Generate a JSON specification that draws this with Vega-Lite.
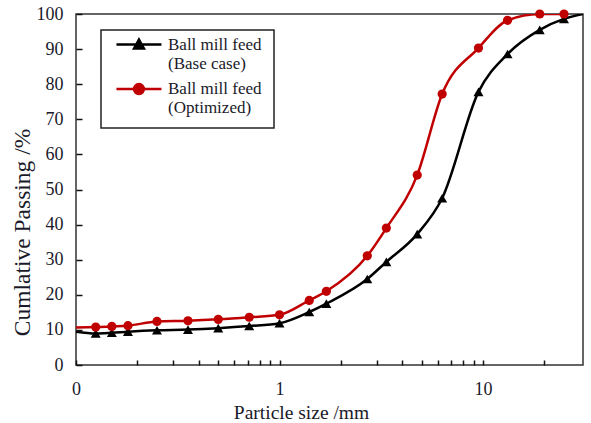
{
  "$schema": "https://vega.github.io/schema/vega-lite/v6.json",
  "autosize": {"type": "none"},
  "width": 507,
  "height": 351,
  "padding": {"left": 76, "top": 14, "right": 8, "bottom": 58},
  "background": "white",
  "config": {
    "font": "Liberation Serif",
    "view": {"stroke": "#333333", "strokeWidth": 1.5},
    "axis": {"grid": false, "domain": false, "ticks": true, "tickWidth": 1.5, "tickOpacity": 1, "labelFont": "Liberation Serif", "titleFont": "Liberation Serif", "labelColor": "#1a1a2a", "titleColor": "#1a1a2a", "titleFontWeight": "normal"}
  },
  "data": {"values": [
    {"size": 0.1, "pass": 9.5, "series": "Ball mill feed|\u00a0\u00a0(Base case)", "marker": false},
    {"size": 0.125, "pass": 9.0, "series": "Ball mill feed|\u00a0\u00a0(Base case)", "marker": true},
    {"size": 0.15, "pass": 9.2, "series": "Ball mill feed|\u00a0\u00a0(Base case)", "marker": true},
    {"size": 0.18, "pass": 9.5, "series": "Ball mill feed|\u00a0\u00a0(Base case)", "marker": true},
    {"size": 0.25, "pass": 9.9, "series": "Ball mill feed|\u00a0\u00a0(Base case)", "marker": true},
    {"size": 0.355, "pass": 10.1, "series": "Ball mill feed|\u00a0\u00a0(Base case)", "marker": true},
    {"size": 0.5, "pass": 10.5, "series": "Ball mill feed|\u00a0\u00a0(Base case)", "marker": true},
    {"size": 0.71, "pass": 11.1, "series": "Ball mill feed|\u00a0\u00a0(Base case)", "marker": true},
    {"size": 1.0, "pass": 11.9, "series": "Ball mill feed|\u00a0\u00a0(Base case)", "marker": true},
    {"size": 1.4, "pass": 15.1, "series": "Ball mill feed|\u00a0\u00a0(Base case)", "marker": true},
    {"size": 1.7, "pass": 17.5, "series": "Ball mill feed|\u00a0\u00a0(Base case)", "marker": true},
    {"size": 2.7, "pass": 24.5, "series": "Ball mill feed|\u00a0\u00a0(Base case)", "marker": true},
    {"size": 3.35, "pass": 29.4, "series": "Ball mill feed|\u00a0\u00a0(Base case)", "marker": true},
    {"size": 4.75, "pass": 37.3, "series": "Ball mill feed|\u00a0\u00a0(Base case)", "marker": true},
    {"size": 6.3, "pass": 47.5, "series": "Ball mill feed|\u00a0\u00a0(Base case)", "marker": true},
    {"size": 9.5, "pass": 77.8, "series": "Ball mill feed|\u00a0\u00a0(Base case)", "marker": true},
    {"size": 13.2, "pass": 88.6, "series": "Ball mill feed|\u00a0\u00a0(Base case)", "marker": true},
    {"size": 19, "pass": 95.5, "series": "Ball mill feed|\u00a0\u00a0(Base case)", "marker": true},
    {"size": 25, "pass": 98.6, "series": "Ball mill feed|\u00a0\u00a0(Base case)", "marker": true},
    {"size": 31, "pass": 100, "series": "Ball mill feed|\u00a0\u00a0(Base case)", "marker": false},
    {"size": 0.1, "pass": 10.7, "series": "Ball mill feed|\u00a0\u00a0(Optimized)", "marker": false},
    {"size": 0.125, "pass": 10.8, "series": "Ball mill feed|\u00a0\u00a0(Optimized)", "marker": true},
    {"size": 0.15, "pass": 11.0, "series": "Ball mill feed|\u00a0\u00a0(Optimized)", "marker": true},
    {"size": 0.18, "pass": 11.2, "series": "Ball mill feed|\u00a0\u00a0(Optimized)", "marker": true},
    {"size": 0.25, "pass": 12.4, "series": "Ball mill feed|\u00a0\u00a0(Optimized)", "marker": true},
    {"size": 0.355, "pass": 12.6, "series": "Ball mill feed|\u00a0\u00a0(Optimized)", "marker": true},
    {"size": 0.5, "pass": 13.0, "series": "Ball mill feed|\u00a0\u00a0(Optimized)", "marker": true},
    {"size": 0.71, "pass": 13.6, "series": "Ball mill feed|\u00a0\u00a0(Optimized)", "marker": true},
    {"size": 1.0, "pass": 14.3, "series": "Ball mill feed|\u00a0\u00a0(Optimized)", "marker": true},
    {"size": 1.4, "pass": 18.4, "series": "Ball mill feed|\u00a0\u00a0(Optimized)", "marker": true},
    {"size": 1.7, "pass": 21.0, "series": "Ball mill feed|\u00a0\u00a0(Optimized)", "marker": true},
    {"size": 2.7, "pass": 31.1, "series": "Ball mill feed|\u00a0\u00a0(Optimized)", "marker": true},
    {"size": 3.35, "pass": 39.0, "series": "Ball mill feed|\u00a0\u00a0(Optimized)", "marker": true},
    {"size": 4.75, "pass": 54.1, "series": "Ball mill feed|\u00a0\u00a0(Optimized)", "marker": true},
    {"size": 6.3, "pass": 77.2, "series": "Ball mill feed|\u00a0\u00a0(Optimized)", "marker": true},
    {"size": 9.5, "pass": 90.3, "series": "Ball mill feed|\u00a0\u00a0(Optimized)", "marker": true},
    {"size": 13.2, "pass": 98.2, "series": "Ball mill feed|\u00a0\u00a0(Optimized)", "marker": true},
    {"size": 19, "pass": 100, "series": "Ball mill feed|\u00a0\u00a0(Optimized)", "marker": true},
    {"size": 25, "pass": 100, "series": "Ball mill feed|\u00a0\u00a0(Optimized)", "marker": true}
  ]},
  "encoding": {
    "x": {"field": "size", "type": "quantitative",
      "scale": {"type": "log", "domain": [0.1, 31], "nice": false},
      "axis": {"title": "Particle size /mm", "values": [0.1,0.2,0.3,0.4,0.5,0.6,0.7,0.8,0.9,1,2,3,4,5,6,7,8,9,10,20],
        "labelExpr": "datum.value == 0.1 ? '0' : (datum.value == 1 ? '1' : (datum.value == 10 ? '10' : ''))",
        "zindex": 1, "offset": -5, "tickSize": 5, "tickColor": "#111111", "labelPadding": 15, "labelFontSize": 18, "labelFlush": false, "labelOverlap": false,
        "titleFontSize": 19.5, "titleX": 225, "titleY": 52, "titleBaseline": "middle", "titleAnchor": "middle"}},
    "y": {"field": "pass", "type": "quantitative",
      "scale": {"domain": [0, 100], "nice": false},
      "axis": {"title": "Cumlative Passing /%", "values": [0,10,20,30,40,50,60,70,80,90,100],
        "zindex": 1, "offset": -6, "tickSize": 6, "tickColor": "#111111", "labelPadding": 13, "labelFontSize": 18, "labelFlush": false,
        "titleFontSize": 23.5, "titleX": -60, "titleY": 218, "titleBaseline": "middle", "titleAnchor": "middle"}}
  },
  "layer": [
    {
      "mark": {"type": "line", "interpolate": "monotone", "strokeWidth": 2.5, "clip": true},
      "encoding": {
        "color": {"field": "series", "type": "nominal",
          "scale": {"domain": ["Ball mill feed|\u00a0\u00a0(Base case)", "Ball mill feed|\u00a0\u00a0(Optimized)"], "range": ["#000000", "#C00000"]},
          "legend": {
            "orient": "none", "legendX": 25, "legendY": 16,
            "title": null, "strokeColor": "#222222", "padding": 12, "fillColor": "white",
            "symbolSize": 900, "symbolStrokeWidth": 2.5, "rowPadding": 6.5,
            "labelFontSize": 17, "labelFont": "Liberation Serif", "labelColor": "#1a1a2a",
            "labelOffset": 22, "labelLimit": 300,
            "encode": {
              "legend": {"update": {"strokeWidth": {"value": 1.5}}},
              "symbols": {"update": {
                "shape": {"signal": "indexof(datum.value, 'Base') >= 0 ? 'M-0.87,-0.93H2.13M0.3,-0.66L0.63,-1.26L0.96,-0.66Z' : 'M-0.87,-0.93H2.13M0.3,-0.93A0.33,0.33 0 1,1 0.96,-0.93A0.33,0.33 0 1,1 0.3,-0.93Z'"},
                "fill": {"signal": "indexof(datum.value, 'Base') >= 0 ? '#000000' : '#C00000'"},
                "fillOpacity": {"value": 1}
              }},
              "labels": {"update": {
                "text": {"signal": "split(datum.value, '|')"},
                "lineHeight": {"value": 19},
                "dy": {"value": -14}
              }}
            }
          }}
      }
    },
    {
      "transform": [{"filter": "datum.marker && indexof(datum.series, 'Base') >= 0"}],
      "mark": {"type": "point", "filled": true, "opacity": 1, "shape": "triangle-up", "color": "#000000", "size": 100}
    },
    {
      "transform": [{"filter": "datum.marker && indexof(datum.series, 'Optimized') >= 0"}],
      "mark": {"type": "point", "filled": true, "opacity": 1, "shape": "circle", "color": "#C00000", "size": 85}
    }
  ]
}
